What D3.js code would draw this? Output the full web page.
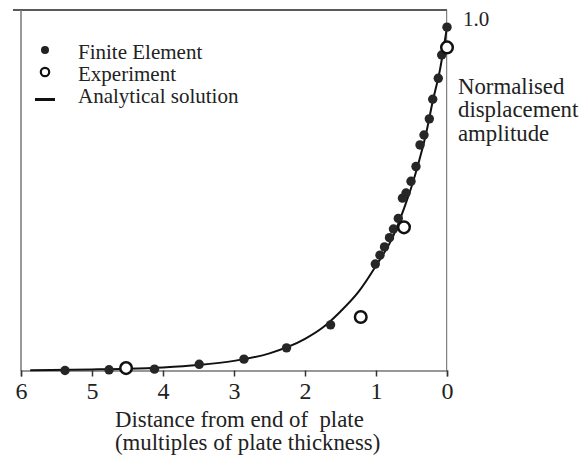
<!DOCTYPE html>
<html><head><meta charset="utf-8">
<script src="https://cdn.jsdelivr.net/npm/d3@7/dist/d3.min.js"></script>
<style>body{margin:0;background:#fff}svg{display:block}text{font-family:"Liberation Serif","Times New Roman",serif;fill:#222}</style>
</head><body><svg id="c" width="582" height="463"></svg>
<script>
// Data (distance in plate thicknesses, normalised amplitude)
const feX = [5.38,4.76,4.12,3.49,2.86,2.26,1.64,1.01,0.944,0.880,0.810,0.754,0.686,0.627,0.577,0.507,0.437,0.380,0.324,0.249,0.201,0.123,0.075,0.0];
const feY = [0.0,0.002,0.004,0.018,0.033,0.066,0.133,0.310,0.336,0.360,0.387,0.412,0.443,0.502,0.517,0.551,0.594,0.657,0.686,0.733,0.790,0.851,0.919,1.0];
const expX = [4.52,1.215,0.606,0.0];
const expY = [0.007,0.156,0.417,0.941];
const anX = [5.87,5.0,4.5,4.0,3.5,3.0,2.5,2.0,1.75,1.5,1.25,1.0,0.75,0.6,0.5,0.4,0.3,0.2,0.1,0.0];
const anY = [0.001,0.003,0.005,0.009,0.016,0.028,0.05,0.092,0.125,0.172,0.228,0.305,0.395,0.475,0.535,0.605,0.685,0.785,0.875,1.0];
const xTicks = [6,5,4,3,2,1,0];
const legendLabels = ["Finite Element","Experiment","Analytical solution"];
const yLabel = ["Normalised","displacement","amplitude"];
const xTitle = ["Distance from end of\u00a0 plate","(multiples of plate thickness)"];

const svg = d3.select("#c");
const x = d3.scaleLinear().domain([6,0]).range([21,447]);
const y = d3.scaleLinear().domain([0,1.05]).range([370.5,10]);

// frame
svg.append("line").attr("x1",13).attr("x2",447).attr("y1",10).attr("y2",10).attr("stroke","#222").attr("stroke-width",1.5);
svg.append("line").attr("x1",21).attr("x2",21).attr("y1",10).attr("y2",371).attr("stroke","#777").attr("stroke-width",1.5);
svg.append("line").attr("x1",446.7).attr("x2",446.7).attr("y1",10).attr("y2",371).attr("stroke","#666").attr("stroke-width",1);

// x axis
const xa = svg.append("g").attr("transform","translate(0,370.5)")
  .call(d3.axisBottom(x).tickValues(xTicks).tickFormat(d3.format("d")).tickSize(6).tickPadding(5));
xa.select(".domain").attr("stroke","#777").attr("stroke-width",1.5);
xa.selectAll(".tick line").attr("stroke","#333").attr("stroke-width",1.5);
xa.selectAll(".tick text").attr("font-size",24).attr("font-family","Liberation Serif").attr("fill","#222");

// analytical line
const line = d3.line().x((d,i)=>x(anX[i])).y((d,i)=>y(anY[i])).curve(d3.curveMonotoneX);
svg.append("path").datum(anX).attr("d",line).attr("fill","none").attr("stroke","#111").attr("stroke-width",2);

// FE points
svg.append("g").selectAll("circle").data(feX).join("circle")
  .attr("cx",(d)=>x(d)).attr("cy",(d,i)=>y(feY[i])).attr("r",4.7).attr("fill","#262626");

// Experiment points
svg.append("g").selectAll("circle").data(expX).join("circle")
  .attr("cx",(d)=>x(d)).attr("cy",(d,i)=>y(expY[i])).attr("r",5.8)
  .attr("fill","#fff").attr("stroke","#111").attr("stroke-width",2.5);

// legend
svg.append("circle").attr("cx",45).attr("cy",50).attr("r",4).attr("fill","#222");
svg.append("circle").attr("cx",45).attr("cy",72).attr("r",4.2).attr("fill","#fff").attr("stroke","#111").attr("stroke-width",2.2);
svg.append("line").attr("x1",35).attr("x2",55).attr("y1",99.5).attr("y2",99.5).attr("stroke","#111").attr("stroke-width",3);
svg.selectAll("text.leg").data(legendLabels).join("text").attr("class","leg")
  .attr("x",78).attr("y",(d,i)=>58.5+i*22).attr("font-size",21).text(d=>d);

// y label
svg.append("text").attr("x",463).attr("y",26).attr("font-size",21).text("1.0");
svg.selectAll("text.yl").data(yLabel).join("text").attr("class","yl")
  .attr("x",458).attr("y",(d,i)=>93.5+i*23.5).attr("font-size",22.8).text(d=>d);

// x title
svg.selectAll("text.xt").data(xTitle).join("text").attr("class","xt")
  .attr("x",115).attr("y",(d,i)=>426.5+i*23.5).attr("font-size",22.8).text(d=>d);
</script></body></html>
